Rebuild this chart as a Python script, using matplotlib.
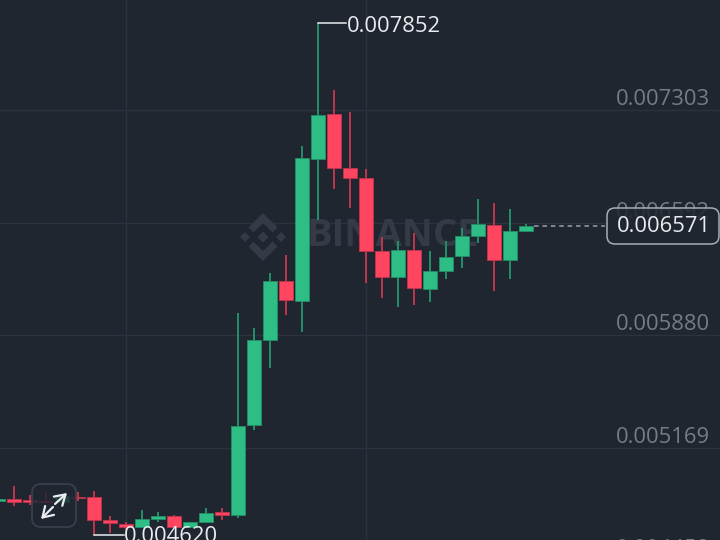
import matplotlib
matplotlib.use("Agg")
import matplotlib.pyplot as plt
from matplotlib.patches import FancyBboxPatch, Polygon, FancyArrowPatch

# candles, oldest first, prices in millionths
opens = [4831.9, 4844.5, 4838.2, 4835.0, 4825.6, 4860.3, 4857.2, 4711.8, 4686.5, 4667.6, 4718.1, 4737.1,
         4667.6, 4699.2, 4762.4, 4743.4, 5312.2, 5849.4, 6222.3, 6099.0, 6993.3, 7277.7, 6936.4, 6873.2,
         6411.9, 6247.6, 6418.2, 6171.7, 6285.5, 6380.3, 6506.7, 6576.2, 6355.0, 6541.4]
highs = [4851.0, 4926.7, 4869.8, 4888.8, 4870.0, 4888.8, 4895.1, 4737.1, 4699.2, 4775.0, 4762.4, 4743.4,
         4702.0, 4787.6, 4787.6, 6020.0, 5925.2, 6272.8, 6386.6, 7075.5, 7852.0, 7429.4, 7290.4, 6930.1,
         6500.4, 6475.1, 6525.6, 6411.9, 6475.1, 6557.2, 6740.5, 6715.2, 6677.3, 6582.0]
lows = [4826.0, 4800.3, 4806.6, 4819.2, 4820.0, 4831.9, 4620.0, 4629.6, 4648.6, 4661.2, 4699.2, 4661.2,
        4660.0, 4692.8, 4711.8, 4724.4, 5280.6, 5672.4, 6007.4, 5900.0, 6607.8, 6803.7, 6683.6, 6209.6,
        6114.8, 6058.0, 6070.6, 6089.6, 6234.9, 6304.4, 6462.4, 6159.1, 6234.9, 6538.3]
closes = [4844.5, 4825.6, 4825.6, 4825.6, 4863.5, 4850.8, 4711.8, 4692.8, 4667.6, 4718.1, 4737.1, 4667.6,
          4699.2, 4756.0, 4743.4, 5305.9, 5849.4, 6222.3, 6102.2, 6999.6, 7271.4, 6936.4, 6873.2, 6411.9,
          6247.6, 6418.2, 6178.0, 6285.5, 6374.0, 6506.7, 6582.5, 6355.0, 6538.3, 6571.0]
price_ticks = [7303, 6592, 5880, 5169, 4458]
vgrid_pos = [8, 23]
last_price = 6571
high_price = 7852
low_price = 4620

BG = "#1F2630"
GRID = "#2C333E"
UP = "#2EBD85"
DOWN = "#FF4560"
UP_WICK = "#238F68"
DOWN_WICK = "#C0344E"
FONT = "Open Sans"
SIZE = 15.8

fig = plt.figure(figsize=(7.2, 5.4), dpi=100, facecolor=BG)
ax = fig.add_axes([0, 0, 1, 1], facecolor=BG)
ax.set_xlim(0.14, 45.14)
ax.set_ylim(4585.4, 7998.2)
ax.axis("off")

# pixel space layer for watermark and button
deco = fig.add_axes([0, 0, 1, 1], facecolor="none", zorder=5)
deco.set_xlim(0, 720)
deco.set_ylim(540, 0)
deco.axis("off")

for p in price_ticks:
    ax.axhline(p, color=GRID, lw=1, zorder=1)
for v in vgrid_pos:
    ax.axvline(v, color=GRID, lw=1, zorder=1)

# watermark logo + name, under the candles
mark = "#343B46"
cx, cy = 263, 237
for dx, r in [(0, 5.5), (-18, 5), (18, 5)]:
    ax.add_patch(Polygon([(cx + dx, cy - r), (cx + dx + r, cy), (cx + dx, cy + r), (cx + dx - r, cy)],
                         closed=True, fc=mark, ec="none", zorder=1.5, transform=deco.transData))
for sign in [-1, 1]:
    chevron = [(0, 24), (14.5, 9.5), (9.5, 4.5), (0, 14), (-9.5, 4.5), (-14.5, 9.5)]
    ax.add_patch(Polygon([(cx + a, cy + sign * b) for a, b in chevron],
                         closed=True, fc=mark, ec="none", zorder=1.5, transform=deco.transData))
ax.text(393, 236.5, "BINANCE", transform=deco.transData, color=mark, fontsize=27.5, fontweight="bold",
        family=FONT, ha="center", va="center", zorder=1.5)

# candles
for i in range(len(opens)):
    rising = closes[i] >= opens[i]
    ax.vlines(i, lows[i], highs[i], color=UP_WICK if rising else DOWN_WICK, lw=1.4, zorder=2)
    ax.bar(i, abs(closes[i] - opens[i]), bottom=min(opens[i], closes[i]), width=0.88,
           color=UP if rising else DOWN, edgecolor=UP_WICK if rising else DOWN_WICK, linewidth=0.6, zorder=3)

# price labels sit a little above their grid lines
for p in price_ticks:
    ax.annotate(f"{p / 1e6:.6f}", xy=(710 / 720, p), xycoords=("axes fraction", "data"),
                xytext=(0, 7.4), textcoords="offset points", color="#767C85", fontsize=SIZE, family=FONT,
                ha="right", va="center", zorder=3, annotation_clip=False)

# last price dashed line and pill
ax.plot([33.5, 37.98], [last_price, last_price], color="#9A9FA6", lw=1.1, ls=(0, (3, 2.5)), zorder=4)
deco.add_patch(FancyBboxPatch((607, 208), 112, 36, boxstyle="round,pad=0,rounding_size=8",
                              fc=BG, ec="none", alpha=0.84, zorder=4))
deco.add_patch(FancyBboxPatch((607, 208), 112, 36, boxstyle="round,pad=0,rounding_size=8",
                              fc="none", ec="#A9ADB3", lw=1.1, zorder=5))
deco.text(663.5, 226.5, f"{last_price / 1e6:.6f}", color="#EAECEF", fontsize=SIZE, family=FONT,
          ha="center", va="center", zorder=6)

# high and low callouts
ax.plot([20, 21.75], [high_price, high_price], color="#EAECEF", lw=1.1, zorder=4)
ax.annotate(f"{high_price / 1e6:.6f}", xy=(21.8, high_price), xytext=(0, -2.4), textcoords="offset points",
            color="#EAECEF", fontsize=SIZE, family=FONT, ha="left", va="center", zorder=4)
ax.plot([6, 7.87], [low_price, low_price], color="#EAECEF", lw=1.1, zorder=4)
ax.annotate(f"{low_price / 1e6:.6f}", xy=(7.87, low_price), xytext=(0, -1.5), textcoords="offset points",
            color="#EAECEF", fontsize=SIZE, family=FONT, ha="left", va="center", zorder=4)

# expand button
deco.add_patch(FancyBboxPatch((32, 484), 44, 43, boxstyle="round,pad=0,rounding_size=9",
                              fc=BG, ec="#3D444F", lw=1.4, alpha=0.82, zorder=7))
for start, end in [((55, 504), (67, 493)), ((53, 507), (41, 519))]:
    deco.add_patch(FancyArrowPatch(start, end, arrowstyle="->,head_length=2.4,head_width=1.5", mutation_scale=3,
                                   color="#EAECEF", lw=1.6, shrinkA=0, shrinkB=0, zorder=8))

fig.savefig("out.png", dpi=100, facecolor=BG)
